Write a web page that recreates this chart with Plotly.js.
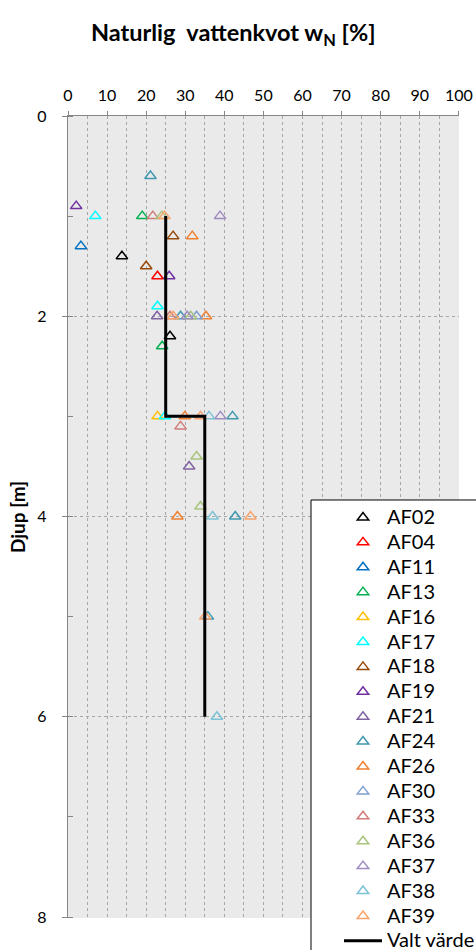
<!DOCTYPE html>
<html>
<head>
<meta charset="utf-8">
<script src="https://cdn.plot.ly/plotly-3.0.1.min.js"></script>
<style>html,body{margin:0;padding:0;background:#fff;}#chart{width:476px;height:950px;}</style>
</head>
<body>
<div id="chart"></div>
<script>
// Natural water content w_N [%] and depth [m] per borehole
const AF02_w = [13.8, 26.1];             const AF02_d = [1.4, 2.2];
const AF04_w = [22.9];                   const AF04_d = [1.6];
const AF11_w = [3.3];                    const AF11_d = [1.3];
const AF13_w = [19.0, 24.1];             const AF13_d = [1.0, 2.3];
const AF16_w = [22.9];                   const AF16_d = [3.0];
const AF17_w = [7.0, 22.9, 24.8];        const AF17_d = [1.0, 1.9, 3.0];
const AF18_w = [26.9, 20.0];             const AF18_d = [1.2, 1.5];
const AF19_w = [2.1, 25.9];              const AF19_d = [0.9, 1.6];
const AF21_w = [22.8, 31.0];             const AF21_d = [2.0, 3.5];
const AF24_w = [21.1, 28.8, 42.1, 42.8, 35.8]; const AF24_d = [0.6, 2.0, 3.0, 4.0, 5.0];
const AF26_w = [31.8, 35.3, 29.9, 28.0]; const AF26_d = [1.2, 2.0, 3.0, 4.0];
const AF30_w = [32.9];                   const AF30_d = [2.0];
const AF33_w = [21.7, 26.1, 28.8];       const AF33_d = [1.0, 2.0, 3.1];
const AF36_w = [24.0, 31.4, 32.9, 33.9]; const AF36_d = [1.0, 2.0, 3.4, 3.9];
const AF37_w = [38.9, 30.5, 39.0];       const AF37_d = [1.0, 2.0, 3.0];
const AF38_w = [36.1, 37.0, 38.1];       const AF38_d = [3.0, 4.0, 6.0];
const AF39_w = [24.7, 26.9, 33.9, 46.7, 35.1]; const AF39_d = [1.0, 2.0, 3.0, 4.0, 5.0];
// Chosen value (Valt värde)
const valt_w = [25, 25, 35, 35];
const valt_d = [1.0, 3.0, 3.0, 6.0];

const seriesNames = ['AF02','AF04','AF11','AF13','AF16','AF17','AF18','AF19','AF21','AF24','AF26','AF30','AF33','AF36','AF37','AF38','AF39'];
const seriesW = [AF02_w, AF04_w, AF11_w, AF13_w, AF16_w, AF17_w, AF18_w, AF19_w, AF21_w, AF24_w, AF26_w, AF30_w, AF33_w, AF36_w, AF37_w, AF38_w, AF39_w];
const seriesD = [AF02_d, AF04_d, AF11_d, AF13_d, AF16_d, AF17_d, AF18_d, AF19_d, AF21_d, AF24_d, AF26_d, AF30_d, AF33_d, AF36_d, AF37_d, AF38_d, AF39_d];
const seriesColors = ['#000000','#ff0000','#0070c0','#00b050','#ffc000','#00ffff','#984807','#7030a0','#8064a2','#4198af','#ef8030','#7f9fd0','#d07c7a','#a8c47c','#a08cc0','#7dc3d6','#f9a46c'];

const LEG = s => '<span style="font-size:20px">' + s + '</span>';

const traces = seriesNames.map((n, i) => ({
  type: 'scatter', mode: 'markers', name: LEG(n),
  x: seriesW[i], y: seriesD[i],
  marker: {symbol: 'triangle-up-open', size: 10, color: seriesColors[i], line: {width: 1.5, color: seriesColors[i]}},
  cliponaxis: false
}));
traces.push({
  type: 'scatter', mode: 'lines', name: LEG('Valt värde'),
  x: valt_w, y: valt_d,
  line: {color: '#000000', width: 3}
});

const FONT = 'Lato, "Open Sans", sans-serif';
const layout = {
  width: 476, height: 950,
  margin: {l: 68, r: 17, t: 116, b: 32, autoexpand: false},
  paper_bgcolor: '#ffffff',
  plot_bgcolor: '#eaeaea',
  font: {family: FONT, color: '#000000'},
  title: {
    text: '<b>Naturlig  vattenkvot w<sub>N</sub> [%]</b>',
    font: {family: FONT, size: 23.5, color: '#000000'},
    x: 0.49, xref: 'container', xanchor: 'center',
    y: 0.965, yref: 'container', yanchor: 'middle'
  },
  xaxis: {
    side: 'top', range: [0, 100.05], dtick: 10, tick0: 0,
    showline: true, linecolor: '#868686', linewidth: 1.3,
    ticks: 'outside', ticklen: 4, tickcolor: '#868686', tickwidth: 1,
    ticklabelstandoff: 3,
    tickfont: {family: FONT, size: 16, color: '#000000'},
    showgrid: true, gridcolor: '#a6a6a6', griddash: 'dot', gridwidth: 1,
    minor: {dtick: 5, showgrid: true, gridcolor: '#a6a6a6', griddash: 'dot', gridwidth: 1},
    zeroline: false, fixedrange: true
  },
  yaxis: {
    range: [8.01, 0], dtick: 2, tick0: 0,
    showline: true, linecolor: '#868686', linewidth: 1.3,
    ticks: 'outside', ticklen: 5, tickcolor: '#868686', tickwidth: 1,
    ticklabelstandoff: 12,
    tickfont: {family: FONT, size: 16, color: '#000000'},
    showgrid: true, gridcolor: '#a6a6a6', griddash: 'dot', gridwidth: 1,
    minor: {dtick: 1, ticks: 'inside', ticklen: 5, tickcolor: '#868686', showgrid: false},
    zeroline: false, fixedrange: true,
    title: {text: '<b>Djup [m]</b>', font: {family: FONT, size: 19, color: '#000000'}, standoff: 6},
    automargin: false
  },
  shapes: [{
    type: 'rect', xref: 'paper', yref: 'paper', layer: 'above',
    x0: 0.6215, x1: 1.3, y0: 0.5212, y1: -0.2,
    fillcolor: '#ffffff', line: {color: '#000000', width: 1}
  }],
  showlegend: true,
  legend: {
    x: 0.6931, y: 0.5212, xanchor: 'left', yanchor: 'top',
    bgcolor: 'rgba(0,0,0,0)', borderwidth: 0,
    font: {family: FONT, size: 16.85, color: '#000000'},
    itemwidth: 38,
    tracegroupgap: 0
  }
};

Plotly.newPlot('chart', traces, layout, {displayModeBar: false, staticPlot: true});
</script>
</body>
</html>
